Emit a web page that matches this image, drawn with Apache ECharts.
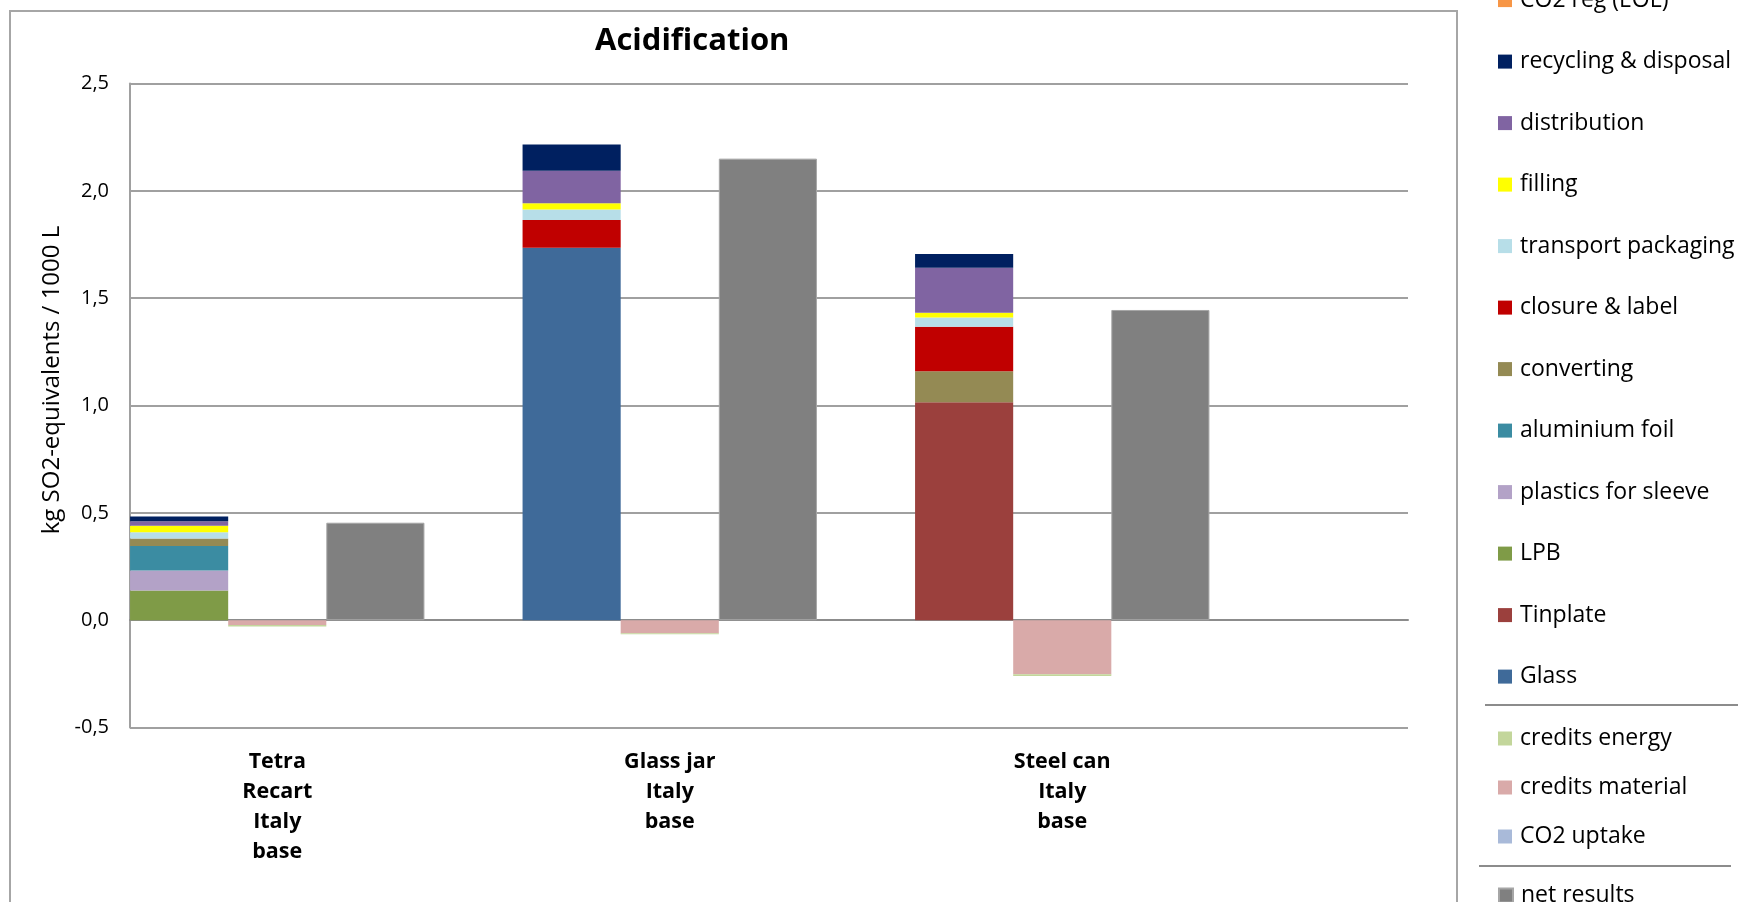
<!DOCTYPE html>
<html>
<head>
<meta charset="utf-8">
<script src="https://cdn.jsdelivr.net/npm/echarts@6/dist/echarts.min.js"></script>
<style>
html,body{margin:0;padding:0;background:#fff;}
#chart{width:1741px;height:902px;}
</style>
</head>
<body>
<div id="chart"></div>
<script>
// ---- data ----
const categories = ['Tetra\nRecart\nItaly\nbase', 'Glass jar\nItaly\nbase', 'Steel can\nItaly\nbase'];
const yTicks = { min: -0.5, max: 2.5, interval: 0.5 };

const glass              = [0,     1.735,  0];
const tinplate           = [0,     0,      1.015];
const lpb                = [0.138, 0,      0];
const plasticsForSleeve  = [0.093, 0,      0];
const aluminiumFoil      = [0.115, 0,      0];
const converting         = [0.034, 0,      0.145];
const closureLabel       = [0,     0.129,  0.207];
const transportPackaging = [0.030, 0.0485, 0.0435];
const filling            = [0.030, 0.0295, 0.022];
const distribution       = [0.021, 0.151,  0.209];
const recyclingDisposal  = [0.022, 0.123,  0.064];
const co2RegEol          = [0,     0,      0];

const co2Uptake          = [0,      0,      0];
const creditsMaterial    = [-0.022, -0.061, -0.252];
const creditsEnergy      = [-0.007, -0.005, -0.008];

const netResults         = [0.454, 2.150, 1.445];

const contributionNames = ['Glass','Tinplate','LPB','plastics for sleeve','aluminium foil','converting','closure & label','transport packaging','filling','distribution','recycling & disposal','CO2 reg (EOL)'];
const contributionData  = [glass, tinplate, lpb, plasticsForSleeve, aluminiumFoil, converting, closureLabel, transportPackaging, filling, distribution, recyclingDisposal, co2RegEol];
const contributionColors = ['#3F6A99','#9B403D','#7F9B47','#B3A2C7','#3B8CA2','#948A54','#C00000','#B7DEE8','#FFFF00','#8064A2','#002060','#F79646'];

const creditNames  = ['CO2 uptake','credits material','credits energy'];
const creditData   = [co2Uptake, creditsMaterial, creditsEnergy];
const creditColors = ['#A9BAD9','#D9AAA9','#C3D69B'];

// ---- chart ----
const FONT = 'Open Sans';
const chart = echarts.init(document.getElementById('chart'));

const series = [];
contributionNames.forEach((n, i) => {
  series.push({
    name: n, type: 'bar', stack: 'contrib', xAxisIndex: 1, yAxisIndex: 1,
    data: contributionData[i], itemStyle: { color: contributionColors[i] },
    barGap: '0%', barCategoryGap: '25%'
  });
});
creditNames.forEach((n, i) => {
  series.push({
    name: n, type: 'bar', stack: 'credits', xAxisIndex: 1, yAxisIndex: 1,
    data: creditData[i], itemStyle: { color: creditColors[i] },
    barGap: '0%', barCategoryGap: '25%'
  });
});
series.push({
  name: 'net results', type: 'bar', xAxisIndex: 1, yAxisIndex: 1,
  data: netResults, itemStyle: { color: '#808080', borderColor: '#A6A6A6', borderWidth: 1 },
  barGap: '0%', barCategoryGap: '25%'
});

const legendCommon = {
  orient: 'vertical', left: 1498, padding: 0, icon: 'rect',
  itemWidth: 14, itemHeight: 14, selectedMode: false,
  textStyle: { fontFamily: FONT, fontSize: 23, color: '#000', lineHeight: 22, padding: [0,0,0,3] }
};

const option = {
  animation: false,
  backgroundColor: '#fff',
  title: {
    text: 'Acidification', left: 590, top: 21,
    textStyle: { fontFamily: FONT, fontWeight: 'bold', fontSize: 31, color: '#000' }
  },
  legend: [
    Object.assign({}, legendCommon, { top: -11.4, itemGap: 38.5,
      data: ['CO2 reg (EOL)','recycling & disposal','distribution','filling','transport packaging','closure & label','converting','aluminium foil','plastics for sleeve','LPB','Tinplate','Glass'] }),
    Object.assign({}, legendCommon, { top: 727, itemGap: 26,
      data: ['credits energy','credits material','CO2 uptake'] }),
    Object.assign({}, legendCommon, { top: 884, itemGap: 10, data: ['net results'] })
  ],
  grid: [
    { left: 130, top: 83.5, width: 1278, height: 644, containLabel: false },
    { left: 81, top: 83.5, width: 1177.5, height: 644, containLabel: false }
  ],
  xAxis: [
    { type: 'category', gridIndex: 0, data: categories,
      axisLine: { show: true, onZero: true, lineStyle: { color: '#8C8C8C', width: 2 } },
      axisTick: { show: false }, axisLabel: { show: false }, splitLine: { show: false } },
    { type: 'category', gridIndex: 1, data: categories, position: 'bottom',
      axisLine: { show: false, onZero: false }, axisTick: { show: false },
      axisLabel: { fontFamily: FONT, fontWeight: 'bold', fontSize: 21.5, color: '#000', lineHeight: 29.7, margin: 20, interval: 0 } }
  ],
  yAxis: [
    { type: 'value', gridIndex: 0, min: yTicks.min, max: yTicks.max, interval: yTicks.interval,
      axisLine: { show: true, lineStyle: { color: '#A0A0A0', width: 2 } },
      axisTick: { show: false },
      splitLine: { show: true, lineStyle: { color: '#A0A0A0', width: 2 } },
      axisLabel: { fontFamily: FONT, fontSize: 20, color: '#000', margin: 21,
        formatter: v => v.toFixed(1).replace('.', ',') } },
    { type: 'value', gridIndex: 1, min: yTicks.min, max: yTicks.max, interval: yTicks.interval,
      show: false, splitLine: { show: false } }
  ],
  graphic: [
    { type: 'rect', z: -10, shape: { x: 10, y: 11, width: 1447, height: 1000 },
      style: { fill: 'none', stroke: '#A6A6A6', lineWidth: 2 } },
    { type: 'line', shape: { x1: 1485, y1: 705, x2: 1738, y2: 705 }, style: { stroke: '#8C8C8C', lineWidth: 2 } },
    { type: 'line', shape: { x1: 1479, y1: 866, x2: 1731, y2: 866 }, style: { stroke: '#8C8C8C', lineWidth: 2 } },
    { type: 'text', x: 52, y: 380, rotation: Math.PI / 2,
      style: { text: 'kg SO2-equivalents / 1000 L', fontFamily: FONT, fontSize: 24, fill: '#000',
        align: 'center', verticalAlign: 'middle' } }
  ],
  series: series
};
chart.setOption(option);
</script>
</body>
</html>
